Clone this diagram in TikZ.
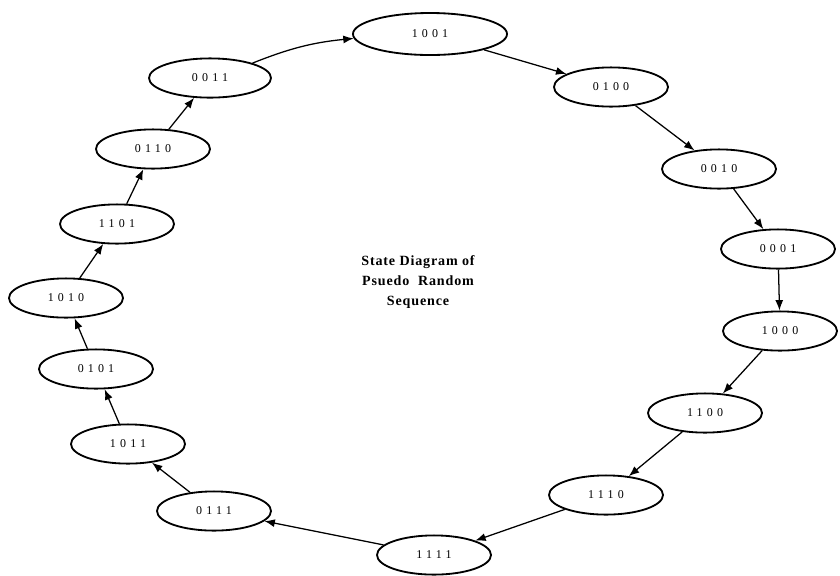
\documentclass[tikz,border=0pt]{standalone}
\usepackage{fontspec}
\setmainfont{Liberation Serif}
\newfontfamily\statefont[LetterSpace=35]{Liberation Serif}
\newfontfamily\titlefont[LetterSpace=6]{Liberation Serif}
\usepackage{tikz}
\usetikzlibrary{shapes.geometric,arrows.meta}

\begin{document}
\begin{tikzpicture}[x=0.025cm, y=-0.025cm,
      state/.style={draw, ellipse, line width=1.3pt, minimum width=2.85cm, minimum height=0.98cm,
                  inner sep=0pt, font=\statefont\fontsize{8.5}{10}\selectfont},
      arr/.style={-{Latex[length=2.6mm, width=2mm]}, line width=0.9pt}]
    \useasboundingbox (0,0) rectangle (840,575);
    \node[state, minimum width=3.85cm, minimum height=1.05cm] (s1001) at (430,34) {1001};
    \node[state] (s0100) at (611,87)  {0100};
    \node[state] (s0010) at (719,169) {0010};
    \node[state] (s0001) at (778,249) {0001};
    \node[state] (s1000) at (780,331) {1000};
    \node[state] (s1100) at (705,413) {1100};
    \node[state] (s1110) at (606,495) {1110};
    \node[state] (s1111) at (434,555) {1111};
    \node[state] (s0111) at (214,511) {0111};
    \node[state] (s1011) at (128,444) {1011};
    \node[state] (s0101) at (96,369)  {0101};
    \node[state] (s1010) at (66,298)  {1010};
    \node[state] (s1101) at (117,224) {1101};
    \node[state] (s0110) at (153,149) {0110};
    \node[state, minimum width=3.05cm] (s0011) at (210,78) {0011};
    \node[font=\titlefont\bfseries\fontsize{10}{14}\selectfont, align=center] (title) at (418,282)
         {State Diagram of\\ Psuedo~~Random\\ Sequence};
    \draw[arr] (s0011) to[bend left=8] (s1001);
    \draw[arr] (s1001) -- (s0100);
    \draw[arr] (s0100) -- (s0010);
    \draw[arr] (s0010) -- (s0001);
    \draw[arr] (s0001) -- (s1000);
    \draw[arr] (s1000) -- (s1100);
    \draw[arr] (s1100) -- (s1110);
    \draw[arr] (s1110) -- (s1111);
    \draw[arr] (s1111) -- (s0111);
    \draw[arr] (s0111) -- (s1011);
    \draw[arr] (s1011) -- (s0101);
    \draw[arr] (s0101) -- (s1010);
    \draw[arr] (s1010) -- (s1101);
    \draw[arr] (s1101) -- (s0110);
    \draw[arr] (s0110) -- (s0011);
  \end{tikzpicture}
\end{document}
